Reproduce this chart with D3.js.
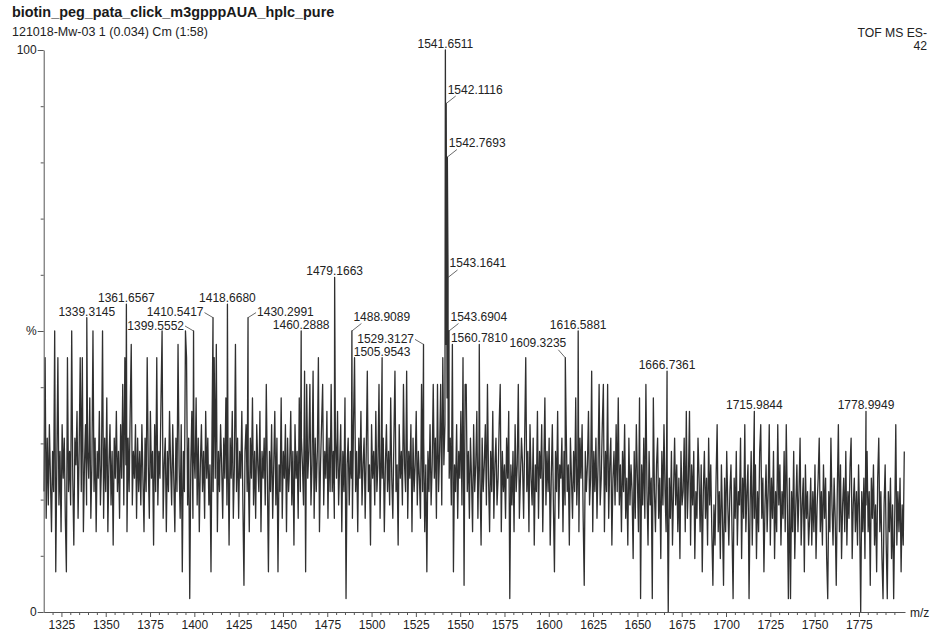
<!DOCTYPE html>
<html><head><meta charset="utf-8">
<script src="https://cdn.jsdelivr.net/npm/d3@7"></script>
<style>
html,body{margin:0;padding:0;background:#fff;}
svg{display:block;font-family:"Liberation Sans",Arial,sans-serif;}
</style></head><body>
<svg id="chart" width="935" height="632"></svg>
<script>
// Header text
const titleText = "biotin_peg_pata_click_m3gpppAUA_hplc_pure";
const subtitleText = "121018-Mw-03 1 (0.034) Cm (1:58)";
const modeText = "TOF MS ES-";
const fullScaleCounts = 42;

// Axis ticks
const xMajorTicks = [1325,1350,1375,1400,1425,1450,1475,1500,1525,1550,1575,1600,1625,1650,1675,1700,1725,1750,1775];
const yMajorTicks = [0, 50, 100];
const yMajorLabels = ["0", "%", "100"];

// Profile counts on a regular m/z grid (start 1315.2, step 0.6), one array per 54 m/z
const gridStart = 1315.2, gridStep = 0.6;
const noise1315 = [9,19,7,13,8,14,10,6,12,9, 21,3,11,19,8,12,6,14,10,13, 7,3,19,9,12,8,21,10,5,13, 11,15,7,12,19,9,19,6,11,14, 8,12,10,16,7,11,21,9,13,6, 12,10,15,8,11,21,7,13,9,16, 6,11,14,8,12,5,13,10,15,9, 12,7,14,10,17,8,19,11,6,13, 9,15,20,8,12,10,14,7,13,9];
const noise1369 = [12,8,14,10,6,13,9,19,11,7, 15,10,12,5,14,9,19,8,12,10, 16,21,7,11,13,6,12,9,15,11, 8,14,10,6,13,9,20,11,7,14, 3,12,9,21,19,8,13,1,11,15, 7,12,10,16,8,13,6,11,14,9, 12,7,15,10,13,8,11,3,14,9, 19,10,20,6,12,9,14,11,7,13, 10,16,8,12,5,13,10,15,7,11];
const noise1423 = [20,9,13,7,12,10,15,8,2,12, 14,9,11,6,13,10,16,8,12,7, 14,11,9,15,6,12,10,13,8,17, 10,3,12,9,14,7,11,15,8,13, 3,11,9,16,7,12,10,14,6,13, 9,11,15,8,12,5,14,10,12,7, 16,9,13,11,8,18,3,17,10,12, 17,8,11,18,7,13,9,12,19,6, 11,14,17,8,12,10,15,7,13,9];
const noise1477 = [17,9,12,7,13,10,15,8,11,14, 6,12,9,16,1,11,13,8,12,10, 7,14,19,9,12,6,13,10,15,8, 11,13,7,12,18,9,11,5,14,10, 12,8,15,9,11,17,7,12,10,13, 6,11,14,9,12,8,16,10,7,13, 18,9,11,5,14,10,12,8,17,11, 9,18,7,12,10,14,6,13,9,11, 15,8,12,10,7,17,9,13,6,11];
const noise1531 = [3,12,9,14,8,11,17,10,13,7, 17,9,12,17,8,19,11,14,20,16, 12,10,13,8,20,3,11,9,14,7, 12,10,15,8,19,2,17,17,9,12, 7,13,10,6,14,9,11,15,7,12, 10,5,13,9,11,14,8,17,10,6, 12,9,15,7,11,13,8,10,14,17, 6,12,9,11,7,13,10,15,1,11, 8,12,6,14,9,11,17,7,10,13];
const noise1585 = [11,7,13,19,9,12,6,14,10,8, 13,5,11,9,15,7,12,10,14,6, 11,16,8,12,9,13,5,10,14,8, 3,12,9,15,7,11,10,13,6,12, 8,14,9,11,5,13,10,7,12,9, 16,8,11,6,13,10,14,7,2,12, 9,11,15,8,10,18,6,12,9,13, 7,11,17,8,10,14,17,6,12,9, 17,7,11,13,5,10,12,8,14,9];
const noise1639 = [16,8,11,6,12,9,14,7,10,5, 13,8,11,9,4,12,7,14,10,6, 16,1,11,8,13,7,17,9,5,12, 8,10,1,16,9,6,11,13,7,10, 4,12,8,14,9,6,11,0,10,7, 12,5,9,13,8,11,6,10,4,12, 8,9,13,6,15,7,10,15,5,11, 8,12,4,9,7,13,10,6,11,3, 9,12,7,10,5,13,8,11,6,2];
const noise1693 = [8,5,10,14,6,9,4,11,7,2, 10,6,12,8,5,9,11,6,1,10, 7,12,5,9,8,13,4,10,7,14, 6,9,11,1,8,12,5,10,7,11, 4,9,6,12,14,7,10,3,8,11, 6,9,14,5,10,7,12,4,9,6, 14,8,11,5,9,7,12,6,14,8, 1,10,1,9,6,12,4,8,11,6, 9,13,5,8,10,3,11,7,9,5];
const noise1747 = [7,10,5,9,6,11,4,8,10,13, 6,9,5,11,7,10,4,1,9,6, 13,8,5,10,7,2,9,14,6,11, 4,8,10,6,12,5,9,7,11,13, 4,8,10,6,9,5,11,7,0,9, 6,10,4,8,12,6,9,2,10,7, 11,5,8,3,10,13,6,9,4,1, 8,11,5,1,9,6,10,4,8,1, 7,14,5,9,6,10,3,8,5,12];

// Labelled peaks (m/z, counts) and where each label sits
const peakMz = [1339.3145,1361.6567,1399.5552,1410.5417,1418.6680,1430.2991,1460.2888,1479.1663,1488.9089,1505.9543,1529.3127,1541.6511,1542.1116,1542.7693,1543.1641,1543.6904,1560.7810,1609.3235,1616.5881,1666.7361,1715.9844,1778.9949];
const peakCounts = [22,23,21,22,23,22,21,25,21,19,20,42,38,34,25,21,20,19,21,18,15,15];
const peakLabelPlacement = ["above","above","left","left","above","right","above","above","upRight","above","left","above","upRight","upRight","upRight","upRight","above","upLeft","above","above","above","above"];

const svg = d3.select("#chart");
const x = d3.scaleLinear().domain([1315, 1801]).range([43.7, 905]);
const y = d3.scaleLinear().domain([0, 100]).range([612, 50]);
const pct = c => c / fullScaleCounts * 100;

// Assemble the profile: grid points plus labelled peak apexes, sorted by m/z
const noiseCounts = [].concat(noise1315, noise1369, noise1423, noise1477, noise1531, noise1585, noise1639, noise1693, noise1747);
const profile = noiseCounts.map((c, i) => ({mz: gridStart + i * gridStep, c}));
peakMz.forEach((mz, i) => profile.push({mz, c: peakCounts[i]}));
profile.sort((a, b) => a.mz - b.mz);

// Header
svg.append("text").attr("x", 12).attr("y", 17).attr("font-size", 14.4).attr("font-weight", "bold").attr("fill", "#1a1a1a").text(titleText);
svg.append("text").attr("x", 12).attr("y", 36).attr("font-size", 12.5).attr("fill", "#222").text(subtitleText);
svg.append("text").attr("x", 927).attr("y", 37).attr("text-anchor", "end").attr("font-size", 12.2).attr("fill", "#222").text(modeText);
svg.append("text").attr("x", 927).attr("y", 50).attr("text-anchor", "end").attr("font-size", 12.2).attr("fill", "#222").text(String(fullScaleCounts));

// Spectrum trace
svg.append("path")
  .datum(profile)
  .attr("fill", "none")
  .attr("stroke", "#303030")
  .attr("stroke-width", 1.3)
  .attr("stroke-linejoin", "round")
  .attr("d", d3.line().x(d => x(d.mz)).y(d => y(pct(d.c))));

// Axes
const axisColor = "#555";
const xMinor = d3.range(1320, 1801, 5).filter(v => v % 25 !== 0);
const gx = svg.append("g").attr("transform", "translate(0,612)");
gx.call(d3.axisBottom(x).tickValues(xMinor).tickSize(3).tickFormat(""));
gx.call(g => g.select(".domain").remove());
const gx2 = svg.append("g").attr("transform", "translate(0,612)")
  .call(d3.axisBottom(x).tickValues(xMajorTicks).tickSize(5).tickSizeOuter(0).tickPadding(3.3).tickFormat(d3.format("d")));
[gx, gx2].forEach(g => {
  g.selectAll("line").attr("stroke", axisColor);
  g.selectAll("text").attr("font-size", 12).attr("fill", "#222").attr("font-family", "Liberation Sans, Arial, sans-serif");
});
gx2.select(".domain").attr("stroke", axisColor);

const yMinor = d3.range(10, 100, 10).filter(v => v !== 50);
const gy = svg.append("g").attr("transform", "translate(43.7,0)");
gy.call(d3.axisLeft(y).tickValues(yMinor).tickSize(3).tickFormat(""));
gy.call(g => g.select(".domain").remove());
const gy2 = svg.append("g").attr("transform", "translate(43.7,0)")
  .call(d3.axisLeft(y).tickValues(yMajorTicks).tickSize(6).tickSizeOuter(0).tickPadding(1)
    .tickFormat(v => yMajorLabels[yMajorTicks.indexOf(v)]));
[gy, gy2].forEach(g => {
  g.selectAll("line").attr("stroke", axisColor);
  g.selectAll("text").attr("font-size", 12).attr("fill", "#222").attr("font-family", "Liberation Sans, Arial, sans-serif");
});
gy2.select(".domain").attr("stroke", axisColor);

svg.append("text").attr("x", 910).attr("y", 617).attr("font-size", 12).attr("fill", "#222").text("m/z");

// Peak labels with leader lines
const labels = svg.append("g").attr("font-size", 12).attr("fill", "#222");
peakMz.forEach((mz, i) => {
  const px = x(mz), py = y(pct(peakCounts[i]));
  const txt = mz.toFixed(4);
  const place = peakLabelPlacement[i];
  let tx, ty, anchor, lead = null;
  if (place === "above") { tx = px; ty = py - 2; anchor = "middle"; }
  else if (place === "left") { tx = px - 9.5; ty = py - 1.5; anchor = "end"; lead = [px - 8.5, py - 5]; }
  else if (place === "right") { tx = px + 9; ty = py - 1.5; anchor = "start"; lead = [px + 8, py - 5]; }
  else if (place === "upRight") { tx = px + 1.5; ty = py - 10; anchor = "start"; lead = [px + 9.5, py - 7.5]; }
  else { tx = px + 1; ty = py - 10.5; anchor = "end"; lead = [px - 7, py - 8]; }
  if (lead) {
    labels.append("line").attr("x1", lead[0]).attr("y1", lead[1]).attr("x2", px).attr("y2", py)
      .attr("stroke", "#444").attr("stroke-width", 0.8);
  }
  labels.append("text").attr("x", tx).attr("y", ty).attr("text-anchor", anchor).text(txt);
});
</script>
</body></html>
